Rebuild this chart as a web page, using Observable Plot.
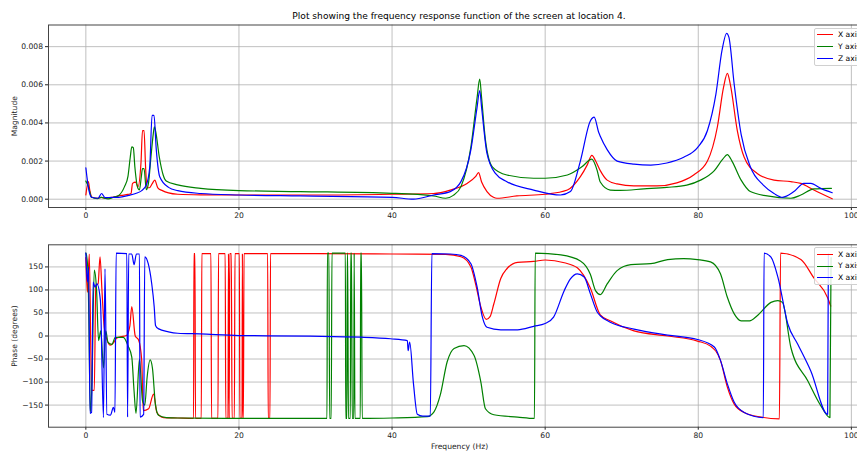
<!DOCTYPE html>
<html><head><meta charset="utf-8">
<script src="https://cdn.jsdelivr.net/npm/d3@7"></script>
<script src="https://cdn.jsdelivr.net/npm/@observablehq/plot@0.6"></script>
<style>
html,body{margin:0;padding:0;background:#fff;overflow:hidden;}
#wrap{position:relative;width:857px;height:451px;overflow:hidden;font-family:"DejaVu Sans",sans-serif;color:#000;}
#title{position:absolute;left:0;width:918px;top:10.5px;text-align:center;font-size:9.1px;line-height:11px;white-space:nowrap;}
.pl{position:absolute;left:0;width:870px;}
.legend{position:absolute;left:814px;width:80px;background:rgba(255,255,255,0.85);border:1px solid #d0d0d0;border-radius:2px;font-size:7.6px;padding:0.5px 0;}
.row{position:relative;height:11.8px;}
.row .sw{position:absolute;left:2px;top:5.4px;width:16px;height:0;border-top:1.3px solid;}
.row .tx{position:absolute;left:23px;top:0;line-height:11.8px;white-space:nowrap;}
</style></head>
<body>
<div id="wrap">
  <div id="title">Plot showing the frequency response function of the screen at location 4.</div>
  <div class="pl" id="p1" style="top:0px"></div>
  <div class="pl" id="p2" style="top:230px"></div>
  <div class="legend" id="lg1" style="top:27.5px"></div>
  <div class="legend" id="lg2" style="top:247px"></div>
</div>
<script>
// ---------- data ----------
const xTicks = [0, 20, 40, 60, 80, 100];
const magTicks = [0, 0.002, 0.004, 0.006, 0.008];
const phaseTicks = [-150, -100, -50, 0, 50, 100, 150];
const seriesColors = ["red", "green", "blue"];
const magLabels = ["X axis", "Y axis", "Z axis"];
const phaseLabels = ["X axis", "Y axis", "X axis"];

// Magnitude, [frequency Hz, magnitude]
const magX = [[0,0.00022],[0.33,0.00092],[0.5,0.0005],[0.8,0.0001],[1.5,0.00005],[2.0,0.0001],[2.5,0.00005],[3.5,0.0001],[4.6,0.0002],[5.5,0.00025],[5.9,0.0003],[6.1,0.00083],[6.5,0.0009],[6.8,0.00065],[7.2,0.0019],[7.4,0.0036],[7.6,0.0036],[7.8,0.0017],[8.0,0.0006],[8.3,0.0006],[8.65,0.0008],[9.0,0.001],[9.4,0.0006],[10.0,0.00045],[10.8,0.00033],[12,0.00026],[15,0.00023],[20,0.00022],[30,0.00022],[40,0.00026],[45.4,0.0003],[47.6,0.00048],[49.8,0.00083],[50.9,0.00118],[51.3,0.00139],[51.7,0.0009],[52.4,0.0004],[53.25,0.0001],[53.7,0.00005],[56.3,0.00017],[60,0.00026],[62.9,0.00048],[64.6,0.00118],[65.5,0.0018],[66.1,0.0023],[66.6,0.002],[67.2,0.0015],[68.1,0.001],[69.4,0.0008],[71.6,0.0007],[74.6,0.0007],[77.2,0.00086],[79.4,0.00127],[81.2,0.002],[82.5,0.0038],[83.3,0.00586],[83.8,0.0066],[84.2,0.006],[85.1,0.0036],[86,0.0022],[87.7,0.00135],[89.9,0.001],[92.1,0.00092],[93.4,0.00083],[95.1,0.00048],[97.5,0.00002]];
const magY = [[0,0.00095],[0.3,0.0007],[0.75,0.0001],[1.5,0.00003],[2.0,0.0001],[2.9,0.00002],[3.6,0.0001],[4.3,0.0002],[5.05,0.00066],[5.5,0.0012],[5.8,0.0022],[6.0,0.00274],[6.2,0.0027],[6.4,0.0017],[6.8,0.00057],[7.0,0.00049],[7.25,0.0012],[7.4,0.0016],[7.6,0.0016],[7.9,0.0005],[8.2,0.0009],[8.5,0.0022],[8.8,0.0034],[8.95,0.0038],[9.1,0.0036],[9.6,0.0022],[10.1,0.00127],[10.5,0.00095],[12,0.00075],[15,0.00057],[20,0.00045],[28,0.0004],[40,0.00031],[45.4,0.00017],[47,0.00005],[48,0.0002],[49,0.00066],[50.3,0.00274],[51.1,0.0053],[51.45,0.0063],[51.7,0.0053],[52.2,0.0031],[53.1,0.0017],[55,0.00127],[58.5,0.0011],[60,0.0011],[62.9,0.00127],[64.8,0.0017],[66.1,0.0021],[66.8,0.0015],[67.2,0.0009],[68.5,0.00048],[69.8,0.00046],[72.9,0.00054],[75.9,0.00062],[78.5,0.00074],[80.3,0.001],[82.1,0.0015],[83.2,0.0021],[83.8,0.00234],[84.4,0.002],[85.6,0.001],[86.8,0.0004],[89,0.00017],[92.1,0.00005],[93.4,0.00022],[95.1,0.00054],[97.4,0.00057]];
const magZ = [[0,0.00165],[0.35,0.00057],[0.75,0.0001],[1.6,0.00005],[2.05,0.0003],[2.5,0.00008],[3.5,0.0001],[4.3,0.0001],[5.6,0.0002],[6.5,0.0003],[7.3,0.00045],[7.9,0.00074],[8.35,0.0017],[8.65,0.0044],[8.9,0.0044],[9.2,0.0026],[9.65,0.00118],[10.8,0.00062],[12,0.00045],[15,0.0003],[20,0.00022],[28,0.00017],[40,0.0001],[42.8,0.0],[45.4,0.00022],[47.6,0.0004],[49,0.00092],[50.3,0.0026],[51.1,0.0048],[51.45,0.0057],[51.7,0.0048],[52.4,0.0024],[53.5,0.00135],[55,0.00092],[58.5,0.00048],[62,0.00022],[63.3,0.0004],[64.6,0.002],[65.9,0.0041],[66.4,0.0043],[67,0.0035],[67.2,0.0033],[68.1,0.0026],[69.4,0.002],[71.6,0.00184],[73.8,0.00179],[75.9,0.0019],[78.1,0.0022],[79.9,0.0027],[81.2,0.0036],[82.3,0.0055],[83.1,0.0078],[83.7,0.0087],[84.0,0.0085],[84.7,0.006],[85.6,0.0034],[86.8,0.0017],[88.5,0.00074],[89.9,0.0003],[91,0.0001],[92.5,0.0004],[93.8,0.00083],[94.7,0.00083],[96,0.00057],[97.5,0.00034]];

// Phase, [frequency Hz, degrees]
const phaseX = [[0,170],[0.2,95],[0.45,178],[0.75,-118],[1.1,-118],[1.3,110],[1.6,113],[1.85,172],[2.1,100],[2.4,19],[2.8,-10],[3.2,-20],[3.6,-15],[4.0,-5],[4.5,-2],[5.3,1],[5.75,22],[6.0,64],[6.45,0],[6.9,-9],[7.3,-53],[7.5,-162],[8.2,-158],[8.84,-126],[9.28,-166],[10.15,-177],[12,-178],[14.07,-179],[14.12,179],[14.25,179],[14.32,-179],[15.08,-179],[15.15,179],[16.34,179],[16.42,-179],[17.26,-179],[17.33,179],[18.2,179],[18.28,-179],[18.57,-179],[18.63,179],[18.72,-179],[18.8,179],[19.0,179],[19.1,-179],[19.4,-179],[19.48,179],[20.05,179],[20.12,-179],[20.4,-179],[20.45,179],[20.5,-179],[20.58,-179],[20.66,179],[23.75,179],[23.82,-179],[24.05,-179],[24.12,179],[30,179],[40,178],[47,177],[49,172],[50.3,150],[50.9,114],[51.6,63],[52.3,36],[52.8,42],[53.3,70],[54.2,125],[55,146],[56.4,160],[58.5,162],[60,165],[62.5,159],[64.2,148],[65.9,104],[67.2,46],[68.5,33],[71.6,11],[76,0],[79.9,-11],[81.6,-22],[82.9,-53],[83.8,-111],[84.7,-148],[86,-166],[88.2,-176],[90.6,-180],[90.75,180],[93.4,166],[95.1,126],[96.9,83],[97.3,65]];
const phaseY = [[0,180],[0.1,174],[0.3,130],[0.45,-37],[0.58,-166],[0.8,-100],[1.1,143],[1.4,99],[1.66,-10],[1.95,11],[2.3,-69],[2.6,11],[2.9,-14],[3.4,-18],[3.85,-3],[4.9,-3],[5.5,-21],[6.0,-46],[6.3,-120],[6.55,-168],[7.0,-50],[7.4,-140],[7.7,-150],[8.0,-90],[8.4,-52],[8.7,-70],[9.1,-150],[9.5,-172],[10.5,-177],[12,-178],[20,-179],[31.5,-179],[31.55,180],[31.75,180],[31.85,-179],[32.05,-179],[32.15,180],[33.9,180],[33.95,-179],[34.1,-179],[34.15,180],[34.2,180],[34.3,-179],[34.55,-179],[34.6,180],[34.7,180],[34.8,-179],[35.0,-179],[35.05,180],[35.15,-179],[35.85,-179],[35.9,180],[36.0,180],[36.1,-179],[40,-178],[44.6,-175],[45.5,-164],[46.3,-128],[47.2,-56],[48.1,-27],[49.4,-21],[50.7,-42],[51.6,-100],[52.2,-158],[53.3,-171],[56.4,-176],[58.6,-179],[58.7,180],[62.05,176],[64.6,163],[65.9,134],[66.6,98],[67.2,90],[68.1,113],[69.4,142],[71.2,155],[73.8,157],[76,166],[78.1,168],[79.9,166],[81.6,161],[82.9,135],[83.8,84],[84.7,48],[85.6,33],[86.7,33],[87.7,44],[89.5,73],[90.4,77],[91,73],[92.1,-25],[94.3,-97],[96,-151],[97.2,-177],[97.35,170]];
const phaseZ = [[0,180],[0.2,117],[0.35,150],[0.55,-168],[0.75,-166],[0.95,117],[1.2,106],[1.45,113],[1.9,77],[2.3,-177],[2.5,146],[2.75,-170],[3.2,-172],[3.6,-155],[3.8,-166],[3.96,180],[5.35,179],[5.45,-176],[5.6,178],[6.0,178],[6.3,155],[6.6,178],[7.0,178],[7.08,-176],[7.55,-170],[7.7,172],[8.15,157],[8.6,114],[8.93,63],[9.1,23],[9.45,16],[10.8,9],[12,6],[14.9,4.5],[20,1],[29.3,-0.3],[35.9,-2.5],[39.8,-6],[42,-10],[42.1,-32],[42.3,-13],[42.8,-104],[43.3,-170],[44,-174],[45.0,-174],[45.2,179],[47.6,178],[49,175],[50.3,157],[51.1,107],[51.8,41],[52.4,19],[54.2,13.5],[56.4,13.5],[58.5,21],[60,27],[61.1,41],[62.5,99],[63.3,124],[64.2,135],[65.1,128],[65.9,92],[66.8,52],[67.2,44],[68.5,30],[71.6,15],[76,2],[79.9,-7.6],[82.1,-24],[82.9,-53],[83.8,-104],[84.7,-144],[86,-166],[88.5,-177],[88.6,180],[89.5,171],[90.4,128],[91.7,26],[93,-18],[94.7,-76],[96.9,-170],[97.0,178]];

// ---------- drawing ----------
const xDomain = [-4.88, 102.5];
const baseStyle = {fontFamily: '"DejaVu Sans", sans-serif', fontSize: "7.6px", color: "#222", background: "transparent", maxWidth: "none", overflow: "visible"};
const gridStroke = {stroke: "#b0b0b0", strokeOpacity: 1, strokeWidth: 0.8};
const lineOpts = (c) => ({x: d => d[0], y: d => d[1], stroke: c, strokeWidth: 1.2, curve: "monotone-x"});

const p1 = Plot.plot({
  width: 870, height: 230, marginLeft: 48, marginRight: 0, marginTop: 24.5, marginBottom: 23,
  style: baseStyle,
  x: {domain: xDomain},
  y: {domain: [-0.000435, 0.009135]},
  marks: [
    Plot.gridX(xTicks, gridStroke),
    Plot.gridY(magTicks, gridStroke),
    Plot.axisX({ticks: xTicks, tickSize: 3, tickPadding: 2.5, label: null}),
    Plot.axisY({ticks: magTicks, tickFormat: d3.format(".3f"), tickSize: 3, tickPadding: 2.5,
      label: "Magnitude", labelAnchor: "center", labelOffset: 37, labelArrow: "none"}),
    Plot.line(magX, lineOpts(seriesColors[0])),
    Plot.line(magY, lineOpts(seriesColors[1])),
    Plot.line(magZ, lineOpts(seriesColors[2])),
    Plot.frame({stroke: "#444", strokeWidth: 1})
  ]
});
document.getElementById("p1").appendChild(p1);

const p2 = Plot.plot({
  width: 870, height: 221, marginLeft: 48, marginRight: 0, marginTop: 14.3, marginBottom: 24.3,
  style: baseStyle,
  x: {domain: xDomain},
  y: {domain: [-198, 198]},
  marks: [
    Plot.gridX(xTicks, gridStroke),
    Plot.gridY(phaseTicks, gridStroke),
    Plot.axisX({ticks: xTicks, tickSize: 3, tickPadding: 2.5,
      label: "Frequency (Hz)", labelAnchor: "center", labelOffset: 22, labelArrow: "none"}),
    Plot.axisY({ticks: phaseTicks, tickSize: 3, tickPadding: 2.5,
      label: "Phase (degrees)", labelAnchor: "center", labelOffset: 37, labelArrow: "none"}),
    Plot.line(phaseX, lineOpts(seriesColors[0])),
    Plot.line(phaseY, lineOpts(seriesColors[1])),
    Plot.line(phaseZ, lineOpts(seriesColors[2])),
    Plot.frame({stroke: "#444", strokeWidth: 1})
  ]
});
document.getElementById("p2").appendChild(p2);

function legend(id, labels) {
  const el = document.getElementById(id);
  labels.forEach((t, i) => {
    const r = document.createElement("div"); r.className = "row";
    const s = document.createElement("div"); s.className = "sw"; s.style.borderTopColor = seriesColors[i];
    const x = document.createElement("div"); x.className = "tx"; x.textContent = t;
    r.appendChild(s); r.appendChild(x); el.appendChild(r);
  });
}
legend("lg1", magLabels);
legend("lg2", phaseLabels);
</script>
</body></html>
